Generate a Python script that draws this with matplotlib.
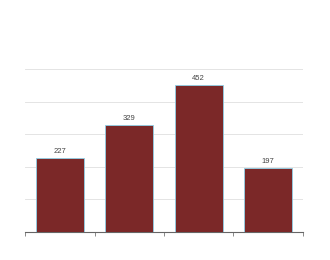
import numpy as np
import matplotlib.pyplot as plt

categories = ['A', 'B', 'C', 'D']
values = [227, 329, 452, 197]

fig = plt.figure(figsize=(3.3, 2.6), dpi=100)
ax = fig.add_axes([0.076, 0.108, 0.842, 0.627])

x = np.arange(len(categories))
ax.bar(x, values, width=0.69, color='#7b2828', edgecolor='#8fd0e8', linewidth=0.6, zorder=3)

# value labels above the bars
for xi, v in zip(x, values):
    ax.text(xi, v + 8, str(v), ha='center', va='bottom', fontsize=5.5,
            color='#444444', family='Liberation Sans')

ax.set_xlim(-0.5, len(categories) - 0.5)
ax.set_ylim(0, 500)
ax.set_yticks(np.arange(0, 501, 100))
ax.yaxis.grid(True, color='#e4e4e4', linewidth=0.7, zorder=0)
ax.set_xticks(np.arange(-0.5, len(categories), 1.0))
ax.tick_params(axis='x', length=3, width=0.6, color='#777777', labelbottom=False)
ax.tick_params(axis='y', length=0, labelleft=False)
for side in ['top', 'right', 'left']:
    ax.spines[side].set_visible(False)
ax.spines['bottom'].set_color('#666666')
ax.spines['bottom'].set_linewidth(0.8)

fig.savefig('out.png', dpi=100)
